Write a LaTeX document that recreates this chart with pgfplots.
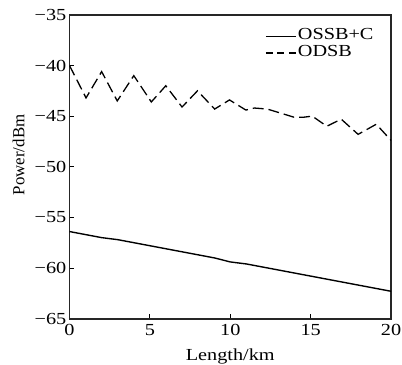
\documentclass[border=0pt]{standalone}
\usepackage{pgfplots}
\pgfplotsset{compat=1.18}
\usepackage{fontspec}
\setmainfont{Liberation Serif}[FakeStretch=1.2]
\newfontfamily\ylabfont{Liberation Serif}
\begin{document}
\fontsize{17}{20}\selectfont
\begin{tikzpicture}
\useasboundingbox (-70pt,-46pt) rectangle (335pt,321pt);
\begin{axis}[
  at={(0pt,0pt)}, anchor=south west,
  scale only axis,
  width=324pt, height=306pt,
  xmin=0, xmax=20, ymin=-65, ymax=-35,
  xtick={0,5,10,15,20},
  ytick={-65,-60,-55,-50,-45,-40,-35},
  yticklabels={−65,−60,−55,−50,−45,−40,−35},
  xtick pos=bottom, ytick pos=left,
  tick align=inside,
  major tick length=5pt,
  axis line style={line width=1.8pt, black!85},
  tick style={line width=1pt, black},
  /pgf/number format/assume math mode=true,
  ticklabel style={font=\fontsize{17}{20}\selectfont, inner sep=0pt},
  yticklabel style={anchor=east, xshift=-3pt},
  xticklabel style={anchor=north, yshift=-6pt},
  xlabel={Length/km},
  ylabel={\ylabfont Power/dBm},
  xlabel style={font=\fontsize{17}{20}\selectfont, at={(axis description cs:0.5,0)}, anchor=base, yshift=-42pt, inner sep=0pt},
  ylabel style={font=\fontsize{17}{20}\selectfont, at={(axis description cs:-0.1404,0.539)}, anchor=base, inner sep=0pt},
  legend style={draw=none, fill=none, at={(axis description cs:1,1)}, anchor=north east,
    xshift=-16pt, yshift=-13pt, inner sep=0pt, row sep=0pt,
    font=\fontsize{17}{20}\selectfont,
    nodes={inner xsep=1.5pt, inner ysep=0pt, text height=12pt, text depth=4.7pt}},
  legend cell align=left,
  legend image code/.code={\draw[#1] (0pt,0pt) -- (30pt,0pt);},
]
\addplot[black, line width=1.4pt] coordinates {
(0,-56.4) (1,-56.7) (2,-57.0) (3,-57.2) (4,-57.5) (5,-57.8) (6,-58.1) (7,-58.4)
(8,-58.7) (9,-59.0) (10,-59.4) (11,-59.6) (12,-59.9) (13,-60.2) (14,-60.5)
(15,-60.8) (16,-61.1) (17,-61.4) (18,-61.7) (19,-62.0) (20,-62.3)};
\addlegendentry{OSSB+C}
\addplot[black, line width=1.3pt, dash pattern=on 11pt off 5pt,
  legend image post style={dash pattern=on 7pt off 4.5pt}] coordinates {
(0,-40.0) (1.03,-43.2) (2.0,-40.6) (2.97,-43.5) (4.0,-41.0) (5.09,-43.6)
(5.99,-42.0) (7.0,-44.1) (7.96,-42.5) (9.03,-44.3) (9.95,-43.4) (10.97,-44.4)
(11.5,-44.2) (12.3,-44.3) (13.95,-45.1) (14.6,-45.1) (15.1,-45.0) (16.0,-46.0)
(16.9,-45.3) (17.95,-46.8) (19.08,-45.8) (20,-47.4)};
\addlegendentry{ODSB}
\end{axis}
\end{tikzpicture}
\end{document}
